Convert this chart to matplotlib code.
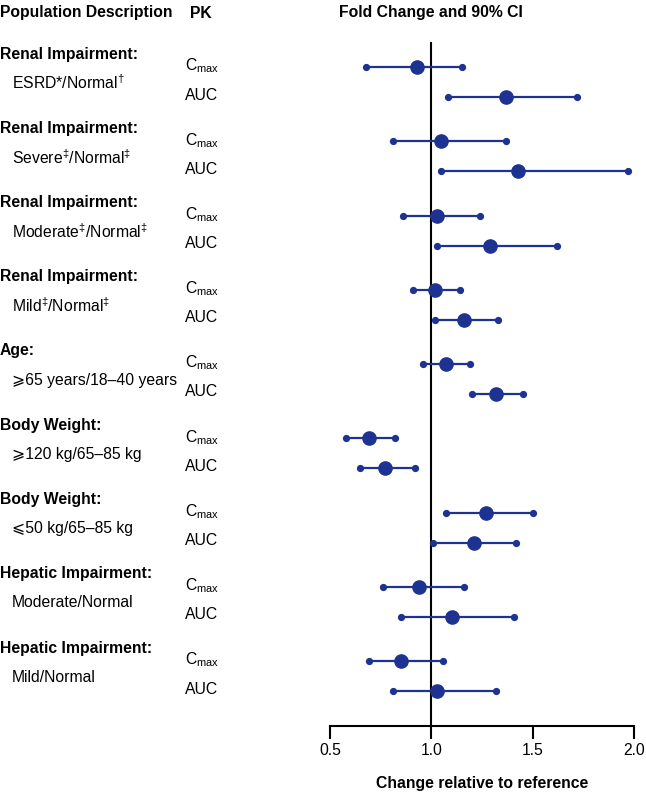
import matplotlib
matplotlib.use("Agg")
import matplotlib.pyplot as plt
import matplotlib.transforms as mtransforms

plt.rcParams['font.family'] = ['Liberation Sans', 'DejaVu Sans']
plt.rcParams['mathtext.fontset'] = 'custom'
plt.rcParams['mathtext.rm'] = 'Liberation Sans'
plt.rcParams['mathtext.it'] = 'Liberation Sans'

# groups (top to bottom)
group_titles = ['Renal Impairment:', 'Renal Impairment:', 'Renal Impairment:',
                'Renal Impairment:', 'Age:', 'Body Weight:', 'Body Weight:',
                'Hepatic Impairment:', 'Hepatic Impairment:']
group_subs = [r'ESRD*/Normal$^{\dagger}$', r'Severe$^{\ddagger}$/Normal$^{\ddagger}$',
              r'Moderate$^{\ddagger}$/Normal$^{\ddagger}$', r'Mild$^{\ddagger}$/Normal$^{\ddagger}$',
              '\u2a7e65 years/18\u201340 years', '\u2a7e120 kg/65\u201385 kg',
              '\u2a7d50 kg/65\u201385 kg', 'Moderate/Normal', 'Mild/Normal']
pk_labels = [r'C$_{\mathrm{max}}$', 'AUC']

# fold change estimates and 90% CI, [Cmax, AUC] per group
cmax_est = [0.93, 1.05, 1.03, 1.02, 1.07, 0.69, 1.27, 0.94, 0.85]
cmax_lo = [0.68, 0.81, 0.86, 0.91, 0.96, 0.58, 1.07, 0.76, 0.69]
cmax_hi = [1.15, 1.37, 1.24, 1.14, 1.19, 0.82, 1.50, 1.16, 1.06]
auc_est = [1.37, 1.43, 1.29, 1.16, 1.32, 0.77, 1.21, 1.10, 1.03]
auc_lo = [1.08, 1.05, 1.03, 1.02, 1.20, 0.65, 1.01, 0.85, 0.81]
auc_hi = [1.72, 1.97, 1.62, 1.33, 1.45, 0.92, 1.42, 1.41, 1.32]

xticks = [0.5, 1.0, 1.5, 2.0]
color = '#1e3391'
fs = 11.3

W, H = 646, 799
fig = plt.figure(figsize=(W / 100, H / 100), dpi=100)
ax = fig.add_axes([330 / W, 1 - 726 / H, 304 / W, (726 - 42) / H])

# vertical layout in pixel units from top
group_step = 74.25
first_row = 67
pk_gap = 30

ax.set_xlim(0.5, 2.0)
ax.set_ylim(726, 42)

for g in range(len(group_titles)):
    y_c = first_row + g * group_step
    y_a = y_c + pk_gap
    for y, est, lo, hi in [(y_c, cmax_est[g], cmax_lo[g], cmax_hi[g]),
                           (y_a, auc_est[g], auc_lo[g], auc_hi[g])]:
        ax.plot([lo, hi], [y, y], color=color, lw=1.6, zorder=3)
        ax.plot([lo, hi], [y, y], 'o', color=color, ms=4.2, zorder=4, lw=0)
        ax.plot([est], [y], 'o', color=color, ms=9.5, zorder=5)

ax.axvline(1.0, color='black', lw=1.5, zorder=2)

for s in ['top', 'right', 'left']:
    ax.spines[s].set_visible(False)
ax.spines['bottom'].set_linewidth(1.5)
ax.set_yticks([])
ax.set_xticks(xticks)
ax.set_xticklabels([f'{t:.1f}' for t in xticks])
ax.tick_params(axis='x', length=9, width=1.5, labelsize=fs, pad=3)
ax.set_xlabel('Change relative to reference', fontsize=fs, fontweight='bold', labelpad=13)

# left-hand labels
trans = mtransforms.blended_transform_factory(fig.transFigure, ax.transData)
for g in range(len(group_titles)):
    y_c = first_row + g * group_step
    ax.text(0 / W, y_c - 13, group_titles[g], transform=trans, fontsize=fs,
            fontweight='bold', va='center', ha='left')
    ax.text(12 / W, y_c + 16, group_subs[g], transform=trans, fontsize=fs,
            va='center', ha='left')
    ax.text(185 / W, y_c - 1, pk_labels[0], transform=trans, fontsize=fs,
            va='center', ha='left')
    ax.text(185 / W, y_c + pk_gap - 2, pk_labels[1], transform=trans, fontsize=fs,
            va='center', ha='left')

# column headers
fig.text(0 / W, 1 - 13 / H, 'Population Description', fontsize=fs, fontweight='bold',
         va='center', ha='left')
fig.text(190 / W, 1 - 13 / H, 'PK', fontsize=fs, fontweight='bold', va='center', ha='left')
fig.text(431 / W, 1 - 13 / H, 'Fold Change and 90% CI', fontsize=fs, fontweight='bold',
         va='center', ha='center')

fig.savefig('out.png', dpi=100)
